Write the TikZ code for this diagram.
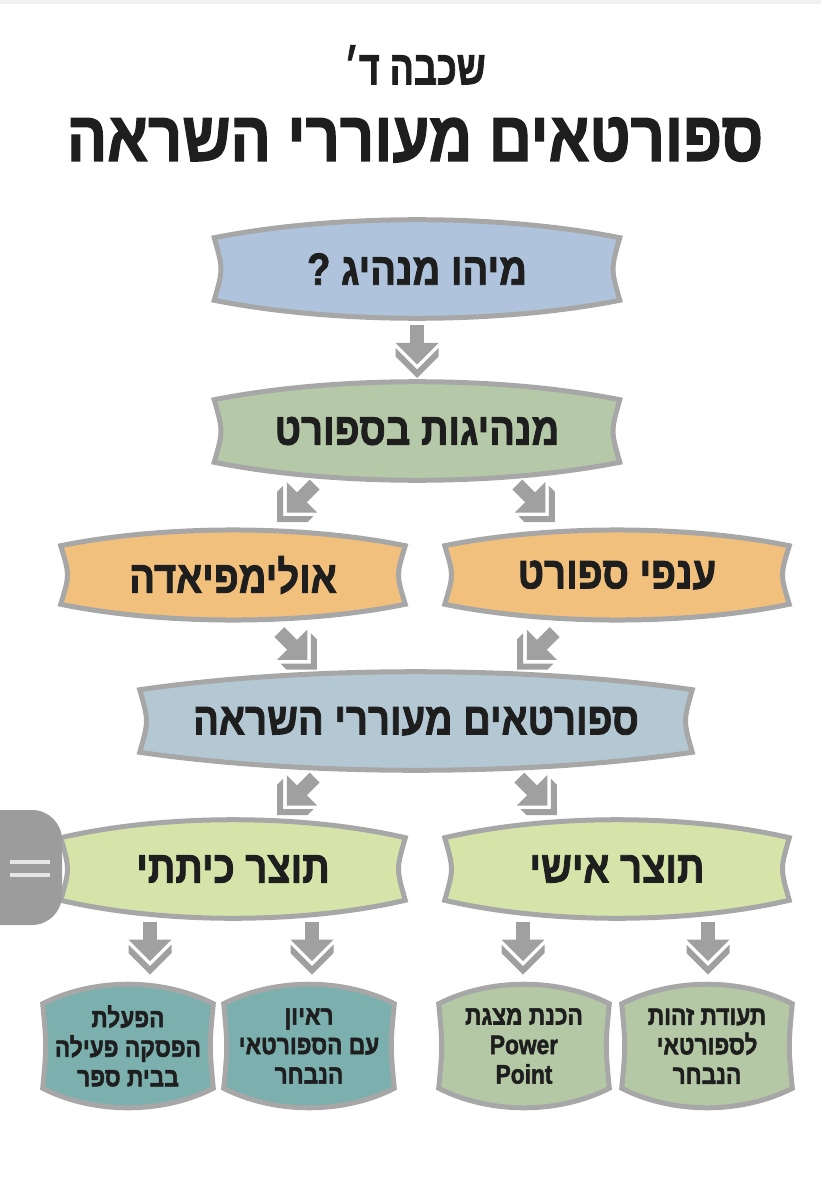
\documentclass[tikz,border=0pt]{standalone}
\usepackage{fontspec}
\setmainfont{Liberation Sans}
\newfontfamily\hebfont[Script=Hebrew,BoldFeatures={FakeBold=2}]{Liberation Sans}
\TeXXeTstate=1
\usepackage{tikz}
\usetikzlibrary{calc,backgrounds}
\definecolor{rink}{HTML}{1E1E1E}
\definecolor{rim}{HTML}{A7A7A7}
\definecolor{agrey}{HTML}{A0A0A0}
\definecolor{hgrey}{HTML}{9C9C9C}
\definecolor{bluebox}{HTML}{AFC4DC}
\definecolor{greenbox}{HTML}{B5C9A8}
\definecolor{orangebox}{HTML}{F1C07D}
\definecolor{steelbox}{HTML}{B3C8D3}
\definecolor{limebox}{HTML}{D6E4A9}
\definecolor{tealbox}{HTML}{7BB0AF}
\definecolor{sagebox}{HTML}{B4C8A6}
\newcommand\pxu{0.025cm}
\newcommand\rtl[2][0.85]{\scalebox{#1}[1]{\beginR#2\endR}}
\newcommand\ltr[1]{\scalebox{0.85}[1]{#1}}

\tikzset{
  boxtext/.style={font=\hebfont\bfseries\fontsize{32}{36}\selectfont,text=rink,inner sep=0pt,align=center},
  wide/.style={boxtext,minimum width=405*\pxu,minimum height=62*\pxu},
  half/.style={boxtext,minimum width=344*\pxu,minimum height=58*\pxu},
  small/.style={boxtext,font=\hebfont\bfseries\fontsize{19}{21}\selectfont,minimum width=170*\pxu,minimum height=84*\pxu},
  bannerpath/.style n args={3}{insert path={
    (#1.north west)
    .. controls ($(#1.north west)!.3!(#1.north east)+(0,-#2)$) and ($(#1.north west)!.7!(#1.north east)+(0,-#2)$) .. (#1.north east)
    .. controls ($(#1.east)+(-#3,0)$) .. (#1.south east)
    .. controls ($(#1.south west)!.7!(#1.south east)+(0,#2)$) and ($(#1.south west)!.3!(#1.south east)+(0,#2)$) .. (#1.south west)
    .. controls ($(#1.west)+(#3,0)$) .. (#1.north west) -- cycle}},
  dblarrow/.pic={
    \fill[agrey] (-7,-25) rectangle (7,-6);
    \fill[agrey] (-21.5,-7) -- (21.5,-7) -- (0,14.5) -- cycle;
    \fill[agrey] (-21.5,-2) -- (0,19.5) -- (21.5,-2) -- (21.5,6.5) -- (0,28) -- (-21.5,6.5) -- cycle;
  }
}

\begin{document}
\begin{tikzpicture}[x=\pxu,y=-\pxu]
  \useasboundingbox (0,0) rectangle (821,1200);
  \fill[black!6] (0,0) rectangle (821,4);

  \node[boxtext,font=\hebfont\bfseries\fontsize{34}{40}\selectfont] (grade) at (415,65) {\rtl[0.75]{שכבה ד׳}};
  \node[boxtext,font=\hebfont\bfseries\fontsize{50}{56}\selectfont] (title) at (415,140) {\rtl[0.85]{ספורטאים מעוררי השראה}};

  \node[wide] (leader) at (417,269) {\rtl{מיהו מנהיג ?}};
  \node[wide] (sport) at (417,431) {\rtl{מנהיגות בספורט}};
  \node[half] (olymp) at (233,575) {\rtl{אולימפיאדה}};
  \node[half] (branch) at (617,575) {\rtl{ענפי ספורט}};
  \node[wide,minimum width=552*\pxu] (inspire) at (416,721) {\rtl{ספורטאים מעוררי השראה}};
  \node[half,minimum height=62*\pxu] (classp) at (233,869) {\rtl{תוצר כיתתי}};
  \node[half,minimum height=62*\pxu] (ownp) at (617,869) {\rtl{תוצר אישי}};

  \node[small] (recess) at (128,1046) {\rtl{הפעלת}\\\rtl{הפסקה פעילה}\\\rtl{בבית ספר}};
  \node[small] (interview) at (309,1046) {\rtl{ראיון}\\\rtl{עם הספורטאי}\\\rtl{הנבחר}};
  \node[small] (slides) at (524,1046) {\rtl{הכנת מצגת}\\\ltr{Power}\\\ltr{Point}};
  \node[small] (idcard) at (707,1046) {\rtl{תעודת זהות}\\\rtl{לספורטאי}\\\rtl{הנבחר}};

  \begin{scope}[on background layer]
    \foreach \n/\c/\b/\s in {leader/bluebox/24/9,sport/greenbox/24/9,olymp/orangebox/21/9,
        branch/orangebox/21/9,inspire/steelbox/24/9,classp/limebox/24/9,ownp/limebox/24/9,
        recess/tealbox/26/4,interview/tealbox/26/4,slides/sagebox/26/4,idcard/sagebox/26/4}
      \path[fill=\c,draw=rim,line width=5*\pxu,bannerpath={\n}{\b}{\s}];
  \end{scope}

  \pic at ($(leader.south)!.5!(sport.north)$) {dblarrow};
  \pic[rotate=-45] at ($(sport.south)+(-120,40)$) {dblarrow};
  \pic[rotate=45] at ($(sport.south)+(118,40)$) {dblarrow};
  \pic[rotate=45] at ($(inspire.north)+(-119,-40)$) {dblarrow};
  \pic[rotate=-45] at ($(inspire.north)+(121,-40)$) {dblarrow};
  \pic[rotate=-45] at ($(inspire.south)+(-119,43)$) {dblarrow};
  \pic[rotate=45] at ($(inspire.south)+(121,43)$) {dblarrow};
  \pic at ($(recess.north)+(22,-57)$) {dblarrow};
  \pic at ($(interview.north)+(3,-57)$) {dblarrow};
  \pic at ($(slides.north)+(-1,-57)$) {dblarrow};
  \pic at ($(idcard.north)+(1,-57)$) {dblarrow};

  \fill[hgrey,rounded corners=30*\pxu] (-40,810) rectangle (62,925);
  \draw[black!10,line width=4*\pxu] (10,862) -- (50,862) (10,875) -- (50,875);
\end{tikzpicture}
\end{document}
